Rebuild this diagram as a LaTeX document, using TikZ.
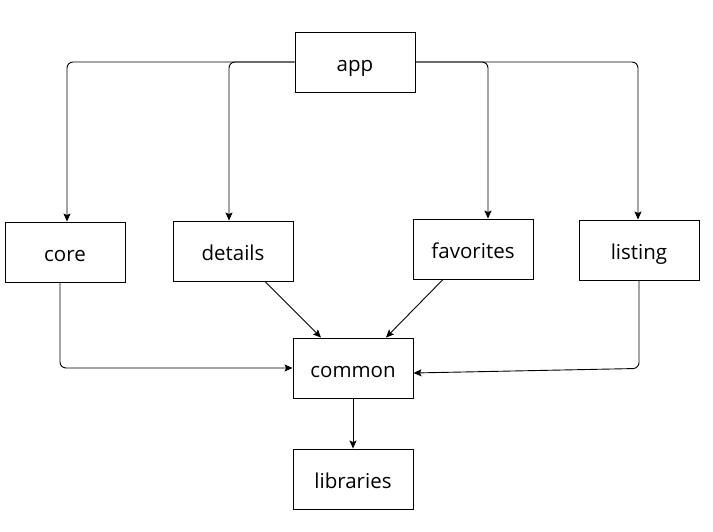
\documentclass[tikz,border=0pt]{standalone}
\usepackage{fontspec}
\setmainfont{Open Sans}
\usetikzlibrary{arrows.meta,positioning}

\begin{document}
\begin{tikzpicture}[x=1pt, y=-1pt,
		module/.style={draw, line width=0.9pt, minimum width=120pt, minimum height=60pt, inner sep=0pt, text height=18.5pt, text depth=0pt, font=\fontsize{20.5}{24}\selectfont},
		link/.style={line width=0.9pt, rounded corners=6pt, -{Stealth[length=8pt, width=7pt, inset=1.5pt]}}]
		\useasboundingbox (0,0) rectangle (713,531);
		
		% Modules
		\node[module] (app) at (355,62) {app};
		\node[module] (core) at (65,252) {core};
		\node[module] (det) at (233,251) {details};
		\node[module] (fav) at (473,249) {favorites};
		\node[module] (lst) at (639,250) {listing};
		\node[module] (com) at (353,368) {common};
		\node[module] (lib) at (353,479) {libraries};
		
		% app fans out
		\foreach \n/\dx/\side in {core/2/west, det/-4/west, fav/15/east, lst/-1/east} {
			\draw[link] (app.\side) -| ([xshift=\dx pt]\n.north);
		}
		
		% into common
		\draw[link] ([xshift=-5pt]core.south) |- (com.west);
		\draw[link] ([xshift=32pt]det.south) -- ([xshift=-32pt]com.north);
		\draw[link] ([xshift=-30pt]fav.south) -- ([xshift=33pt]com.north);
		\draw[link] (lst.south) -- ++(0,88) -- ([yshift=-5pt]com.east);
		\draw[link] (com) -- (lib);
	\end{tikzpicture}
\end{document}
